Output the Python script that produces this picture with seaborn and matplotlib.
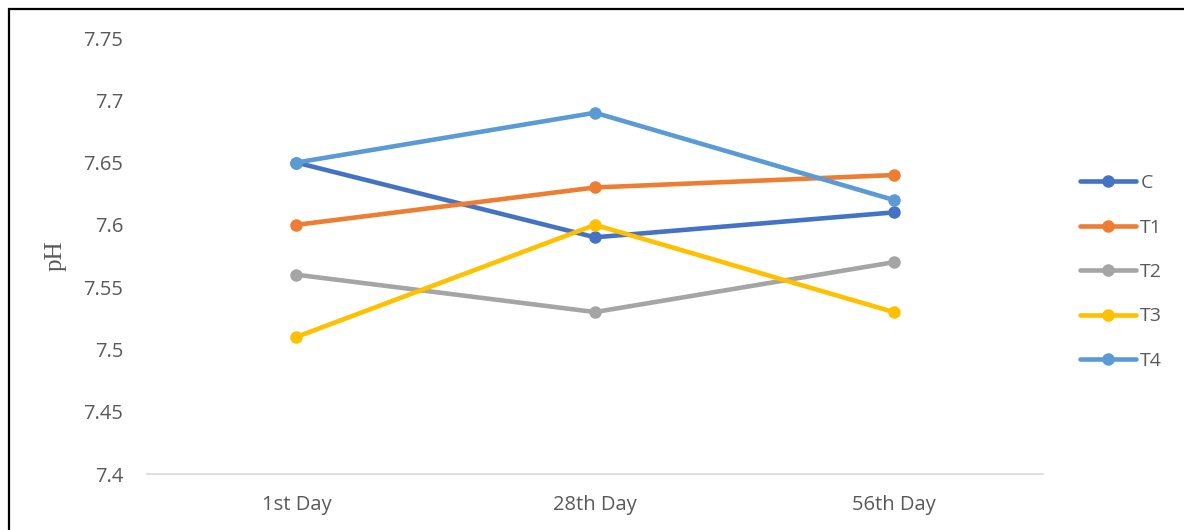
import matplotlib
matplotlib.use("Agg")
import matplotlib.pyplot as plt
from matplotlib.patches import Rectangle
import seaborn as sns
import pandas as pd

days = ["1st Day", "28th Day", "56th Day"]
series_names = ["C", "T1", "T2", "T3", "T4"]
c_vals = [7.65, 7.59, 7.61]
t1_vals = [7.60, 7.63, 7.64]
t2_vals = [7.56, 7.53, 7.57]
t3_vals = [7.51, 7.60, 7.53]
t4_vals = [7.65, 7.69, 7.62]
y_ticks = [7.4, 7.45, 7.5, 7.55, 7.6, 7.65, 7.7, 7.75]
colors = ["#4472C4", "#ED7D31", "#A5A5A5", "#FFC000", "#5B9BD5"]

rows = []
for name, vals in zip(series_names, [c_vals, t1_vals, t2_vals, t3_vals, t4_vals]):
    for d, v in zip(days, vals):
        rows.append({"Day": d, "pH": v, "Series": name})
df = pd.DataFrame(rows)

sns.set_theme(style="white")
plt.rcParams["font.family"] = ["Open Sans", "DejaVu Sans"]

fig = plt.figure(figsize=(11.84, 5.30), dpi=100)
ax = fig.add_axes([147/1184, 1-474/530, (1043-147)/1184, (474-38)/530])

sns.lineplot(data=df, x="Day", y="pH", hue="Series", hue_order=series_names,
             palette=colors, marker="o", markersize=9, markeredgewidth=0,
             linewidth=3.3, ax=ax, sort=False)

ax.set_xlim(-0.5, 2.5)
ax.set_ylim(7.4, 7.75)
ax.set_yticks(y_ticks)
ax.set_yticklabels([f"{t:g}" for t in y_ticks])
ax.tick_params(axis="both", length=0, labelsize=14.5, labelcolor="#595959")
ax.tick_params(axis="y", pad=17)
ax.tick_params(axis="x", pad=15)
ax.set_xlabel("")
ax.set_ylabel("pH", fontsize=18, color="#595959", family=["Liberation Serif"])
ax.yaxis.set_label_coords(-0.09, 0.5)
for s in ["top", "right", "left"]:
    ax.spines[s].set_visible(False)
ax.spines["bottom"].set_color("#D9D9D9")
ax.spines["bottom"].set_linewidth(1.2)
ax.grid(False)

leg = ax.legend(loc="center left", bbox_to_anchor=(1080/1184, 1-272/530),
                bbox_transform=fig.transFigure, frameon=False, fontsize=14,
                handlelength=2.9, labelspacing=1.36, handletextpad=0.2,
                borderpad=0, borderaxespad=0)
for t in leg.get_texts():
    t.set_color("#595959")

fig.patches.append(Rectangle((9/1184, -0.1), 1.2, 1.1 - 9/530,
                             transform=fig.transFigure, fill=False,
                             edgecolor="black", linewidth=1.6, zorder=10))
fig.savefig("out.png", dpi=100)
